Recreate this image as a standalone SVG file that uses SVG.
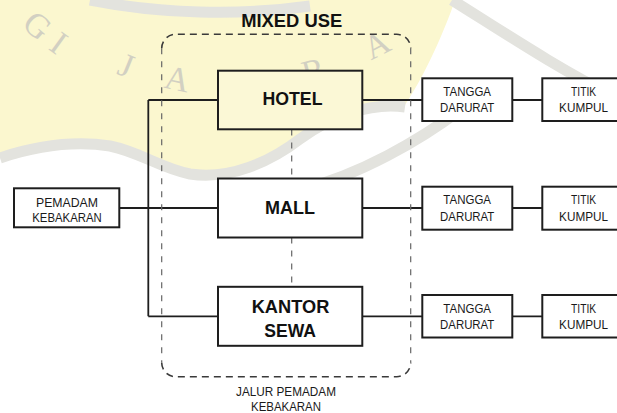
<svg xmlns="http://www.w3.org/2000/svg" width="617" height="413" viewBox="0 0 617 413">
<style>
.box{fill:#fff;stroke:#1e1e1e;stroke-width:2}
.big{font-family:"Liberation Sans",Arial,sans-serif;font-weight:bold;font-size:18.5px;fill:#111;text-anchor:middle}
.sm{font-family:"Liberation Sans",Arial,sans-serif;font-size:13px;fill:#1a1a1a;text-anchor:middle}
.ln{stroke:#1e1e1e;stroke-width:1.8;fill:none}
.dash{stroke:#3a3a3a;stroke-width:1.6;fill:none;stroke-dasharray:7 5}
.dashv{stroke:#666;stroke-width:1.2;fill:none;stroke-dasharray:6 7}
.wm{font-family:"Liberation Serif","Times New Roman",serif;font-size:34px;fill:#d2d0c2;text-anchor:middle}
.wave{fill:none;stroke:#e3e3de;stroke-width:11}
</style>
<g id="watermark">
<path d="M0,0 H455 C445,30 425,75 405,105 C370,100 330,115 300,137 C270,160 230,176 190,172 C160,168 140,152 110,146 C70,140 30,148 0,158 Z" fill="#fbf7cf"/>
<path class="wave" d="M0,158 C30,148 70,140 110,146 C140,152 160,168 190,174 C230,180 270,162 300,139 C330,117 370,102 405,107"/>
<path class="wave" d="M90,0 C160,14 240,16 310,6"/>
<path class="wave" d="M452,0 C500,30 560,70 617,98"/>
<path class="wave" d="M300,190 C360,175 420,140 460,110"/>
<text class="wm" transform="translate(30,34) rotate(41)">G</text>
<text class="wm" transform="translate(52,52) rotate(36)">I</text>
<text class="wm" transform="translate(122,76) rotate(22)">J</text>
<text class="wm" transform="translate(175,90) rotate(12)">A</text>
<text class="wm" transform="translate(246,94) rotate(-1)">P</text>
<text class="wm" transform="translate(316,82) rotate(-14)">R</text>
<text class="wm" transform="translate(382,55) rotate(-27)">A</text>
</g>
<g id="connectors">
<path class="ln" d="M148.3,100 V316.3 M148.3,100 H218 M148.3,316.3 H218 M119.3,208 H218"/>
<path class="ln" d="M362,100 H422.3 M512.3,100 H542.3 M362,208 H422.3 M512.3,208 H542.3 M362,316.3 H422.3 M512.3,316.3 H542.3"/>
<path class="dashv" d="M291.7,129.5 V178.5 M291.7,237.5 V286.7"/>
</g>
<g id="mixed-use">
<path class="dashv" d="M161.7,48.3 V362.7 M410.7,48.3 V362.7"/>
<path class="dash" d="M161.7,48.3 A14,14 0 0 1 175.7,34.3 H396.7 A14,14 0 0 1 410.7,48.3 M161.7,362.7 A14,14 0 0 0 175.7,376.7 H396.7 A14,14 0 0 0 410.7,362.7"/>
<text class="big" x="291.7" y="26.7" textLength="101" lengthAdjust="spacingAndGlyphs">MIXED USE</text>
</g>
<g id="hotel">
<rect class="box" x="218" y="70.7" width="144.3" height="58.6" style="fill:#fbf8d6"/>
<text class="big" x="292.5" y="105" textLength="60" lengthAdjust="spacingAndGlyphs">HOTEL</text>
</g>
<g id="mall">
<rect class="box" x="218" y="178.5" width="144.3" height="59"/>
<text class="big" x="290" y="214.3" textLength="50" lengthAdjust="spacingAndGlyphs">MALL</text>
</g>
<g id="kantor-sewa">
<rect class="box" x="218" y="286.8" width="144.3" height="59"/>
<text class="big" x="290.5" y="312.7" textLength="77.6" lengthAdjust="spacingAndGlyphs">KANTOR</text>
<text class="big" x="290.2" y="336.7" textLength="51.7" lengthAdjust="spacingAndGlyphs">SEWA</text>
</g>
<g id="pemadam">
<rect class="box" x="14" y="188.3" width="105.3" height="39"/>
<text class="sm" x="67" y="206.7" textLength="62" lengthAdjust="spacingAndGlyphs">PEMADAM</text>
<text class="sm" x="67" y="221.7" textLength="69.4" lengthAdjust="spacingAndGlyphs">KEBAKARAN</text>
</g>
<g id="tangga-1">
<rect class="box" x="422.3" y="78.3" width="90" height="42.7"/>
<text class="sm" x="467.2" y="96" textLength="47.7" lengthAdjust="spacingAndGlyphs">TANGGA</text>
<text class="sm" x="467.2" y="111.7" textLength="54.3" lengthAdjust="spacingAndGlyphs">DARURAT</text>
</g>
<g id="titik-1">
<rect class="box" x="542.3" y="78.3" width="82" height="42.7"/>
<text class="sm" x="583.6" y="96" textLength="25" lengthAdjust="spacingAndGlyphs">TITIK</text>
<text class="sm" x="583.6" y="111.7" textLength="49" lengthAdjust="spacingAndGlyphs">KUMPUL</text>
</g>
<g id="tangga-2">
<rect class="box" x="422.3" y="186.7" width="90" height="43"/>
<text class="sm" x="467.2" y="204.3" textLength="47.7" lengthAdjust="spacingAndGlyphs">TANGGA</text>
<text class="sm" x="467.2" y="220.5" textLength="54.3" lengthAdjust="spacingAndGlyphs">DARURAT</text>
</g>
<g id="titik-2">
<rect class="box" x="542.3" y="186.7" width="82" height="43"/>
<text class="sm" x="583.6" y="204.3" textLength="25" lengthAdjust="spacingAndGlyphs">TITIK</text>
<text class="sm" x="583.6" y="220.5" textLength="49" lengthAdjust="spacingAndGlyphs">KUMPUL</text>
</g>
<g id="tangga-3">
<rect class="box" x="422.3" y="295" width="90" height="42.5"/>
<text class="sm" x="467.2" y="313" textLength="47.7" lengthAdjust="spacingAndGlyphs">TANGGA</text>
<text class="sm" x="467.2" y="328.5" textLength="54.3" lengthAdjust="spacingAndGlyphs">DARURAT</text>
</g>
<g id="titik-3">
<rect class="box" x="542.3" y="295" width="82" height="42.5"/>
<text class="sm" x="583.6" y="313" textLength="25" lengthAdjust="spacingAndGlyphs">TITIK</text>
<text class="sm" x="583.6" y="328.5" textLength="49" lengthAdjust="spacingAndGlyphs">KUMPUL</text>
</g>
<g id="jalur-label">
<text class="sm" x="286" y="396" textLength="100" lengthAdjust="spacingAndGlyphs">JALUR PEMADAM</text>
<text class="sm" x="286" y="411" textLength="70" lengthAdjust="spacingAndGlyphs">KEBAKARAN</text>
</g>
</svg>
